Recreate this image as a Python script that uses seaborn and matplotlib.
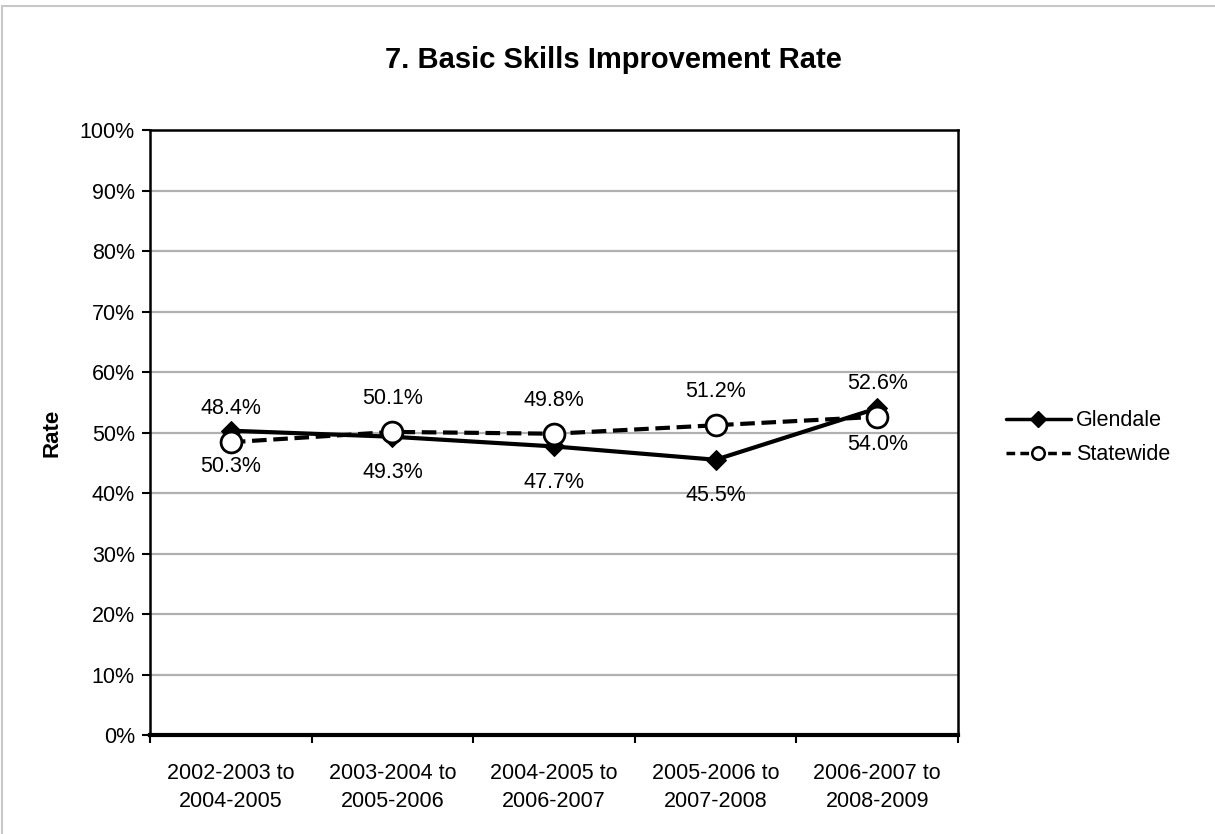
import numpy as np
import pandas as pd
import seaborn as sns
import matplotlib.pyplot as plt
from matplotlib.patches import Rectangle
from matplotlib.lines import Line2D

# chart values
periods = ['2002-2003 to\n2004-2005', '2003-2004 to\n2005-2006', '2004-2005 to\n2006-2007',
           '2005-2006 to\n2007-2008', '2006-2007 to\n2008-2009']
glendale = [50.3, 49.3, 47.7, 45.5, 54.0]
statewide = [48.4, 50.1, 49.8, 51.2, 52.6]

df = pd.DataFrame({'Period': periods, 'Glendale': glendale, 'Statewide': statewide})

sns.set_style('white')
plt.rcParams['font.family'] = ['Liberation Sans', 'DejaVu Sans']
plt.rcParams['text.color'] = 'black'
plt.rcParams['axes.labelcolor'] = 'black'
plt.rcParams['xtick.color'] = 'black'
plt.rcParams['ytick.color'] = 'black'

fig = plt.figure(figsize=(12.15, 8.34), dpi=100)
ax = fig.add_axes([0.1235, 0.1187, 0.665, 0.7254])

# grid
for v in range(10, 100, 10):
    ax.axhline(v, color='#b0b0b0', lw=1.6, zorder=0)

sns.lineplot(data=df, x='Period', y='Glendale', ax=ax, color='black', lw=3,
             marker='D', markersize=10, markeredgecolor='black', sort=False, zorder=3)
sns.lineplot(data=df, x='Period', y='Statewide', ax=ax, color='black', lw=3,
             linestyle=(0, (3.5, 1.6)), marker='o', markersize=15, markerfacecolor='white',
             markeredgecolor='black', markeredgewidth=2, sort=False, zorder=4)

for i, (g, s) in enumerate(zip(glendale, statewide)):
    ax.annotate(f'{g:.1f}%', (i, g), xytext=(0, -26), textcoords='offset points',
                ha='center', va='center', fontsize=15.5)
    ax.annotate(f'{s:.1f}%', (i, s), xytext=(0, 24), textcoords='offset points',
                ha='center', va='center', fontsize=15.5)

ax.set_xlim(-0.5, len(periods) - 0.5)
ax.set_ylim(0, 100)
ax.set_yticks(range(0, 101, 10))
ax.set_yticklabels([f'{v}%' for v in range(0, 101, 10)], fontsize=15.5)
ax.set_xticks(range(len(periods)))
ax.set_xticklabels(periods, fontsize=15.5, linespacing=1.45)
ax.set_xticks(np.arange(-0.5, len(periods), 1), minor=True)
ax.tick_params(axis='x', which='major', length=0, pad=20)
ax.tick_params(axis='x', which='minor', length=6, width=1.5, direction='out', bottom=True)
ax.tick_params(axis='y', length=6, width=1.5, direction='out', left=True, pad=5)
ax.set_xlabel('')
ax.set_ylabel('Rate', fontsize=16, fontweight='bold', labelpad=12)

for side in ['top', 'right', 'left']:
    ax.spines[side].set_linewidth(1.8)
    ax.spines[side].set_color('black')
ax.spines['bottom'].set_linewidth(3)
ax.spines['bottom'].set_color('black')

fig.text(0.505, 0.928, '7. Basic Skills Improvement Rate', ha='center', va='center',
         fontsize=21, fontweight='bold')

handles = [
    Line2D([], [], color='black', lw=2.5, marker='D', markersize=8),
    Line2D([], [], color='black', lw=2.5, linestyle=(0, (2.5, 1.5)), marker='o', markersize=9,
           markerfacecolor='white', markeredgewidth=1.8),
]
fig.legend(handles, ['Glendale', 'Statewide'], loc='center left', bbox_to_anchor=(0.812, 0.475),
           frameon=False, fontsize=15.5, handlelength=3.0, handletextpad=0.25, labelspacing=0.6)

fig.patches.append(Rectangle((0.002, -0.01), 1.1, 1.003, transform=fig.transFigure,
                             fill=False, edgecolor='#c8c8c8', lw=1.5))

fig.savefig('out.png', dpi=100)
